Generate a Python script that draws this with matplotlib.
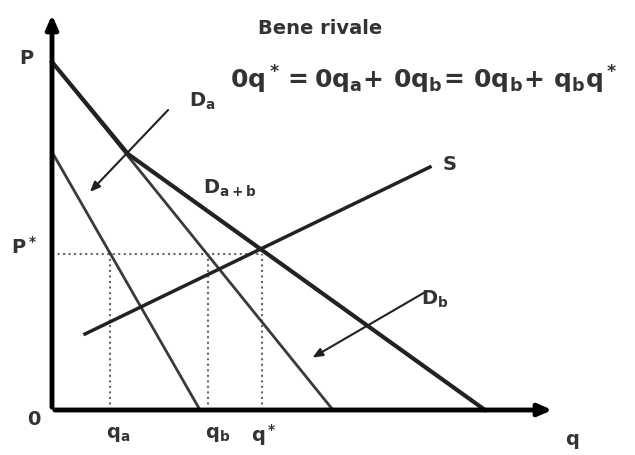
import matplotlib.pyplot as plt

plt.rcParams['font.family'] = ['DejaVu Sans']
plt.rcParams['mathtext.fontset'] = 'custom'
plt.rcParams['mathtext.bf'] = 'DejaVu Sans:bold'
plt.rcParams['mathtext.rm'] = 'DejaVu Sans:bold'
plt.rcParams['mathtext.it'] = 'DejaVu Sans:bold'

# curves (q, p)
da_q = [0, 14.8]
da_p = [25.8, 0]
db_q = [0, 28.1]
db_p = [34.8, 0]
dab_q = [0, 7.6, 43.3]
dab_p = [34.8, 25.6, 0]
s_q = [3.3, 37.8]
s_p = [7.6, 24.3]

# equilibrium
p_star = 15.6
q_a = 5.8
q_b = 15.6
q_star = 21.0

ink = '#222222'
txt = '#333333'

fig = plt.figure(figsize=(6.35, 4.56), dpi=100)
ax = fig.add_axes([0, 0, 1, 1])
ax.set_xlim(-5.2, 58.3)
ax.set_ylim(-4.5, 41.1)
ax.axis('off')

# axes with arrows
ax.annotate('', xy=(0, 39.8), xytext=(0, 0),
            arrowprops=dict(arrowstyle='-|>,head_width=0.35,head_length=0.8', lw=3.5, color='black'))
ax.annotate('', xy=(50.3, 0), xytext=(0, 0),
            arrowprops=dict(arrowstyle='-|>,head_width=0.35,head_length=0.8', lw=3.5, color='black'))

# dotted guides
ax.plot([0, q_star], [p_star, p_star], ls=':', lw=1.5, color='#666666')
for q in (q_a, q_b, q_star):
    ax.plot([q, q], [0, p_star], ls=':', lw=1.5, color='#666666')

# curves
ax.plot(da_q, da_p, color='#3a3a3a', lw=2)
ax.plot(db_q, db_p, color='#3a3a3a', lw=2)
ax.plot(dab_q, dab_p, color=ink, lw=3)
ax.plot(s_q, s_p, color=ink, lw=2.5)

# pointer arrows
ax.annotate('', xy=(3.6, 21.6), xytext=(11.8, 30.2),
            arrowprops=dict(arrowstyle='-|>,head_width=0.25,head_length=0.6', lw=1.5, color=ink))
ax.annotate('', xy=(25.8, 5.1), xytext=(37.5, 11.9),
            arrowprops=dict(arrowstyle='-|>,head_width=0.25,head_length=0.6', lw=1.5, color=ink))

fs = 14
ax.text(-2.6, 35.3, 'P', fontsize=fs, fontweight='bold', color=txt, ha='center', va='center')
ax.text(-2.8, 16.4, r'$\mathbf{P^*}$', fontsize=fs, color=txt, ha='center', va='center')
ax.text(-1.8, -0.9, '0', fontsize=fs, fontweight='bold', color=txt, ha='center', va='center')
ax.text(6.6, -2.4, r'$\mathbf{q_a}$', fontsize=fs, color=txt, ha='center', va='center')
ax.text(16.6, -2.4, r'$\mathbf{q_b}$', fontsize=fs, color=txt, ha='center', va='center')
ax.text(21.2, -2.4, r'$\mathbf{q^*}$', fontsize=fs, color=txt, ha='center', va='center')
ax.text(52.0, -2.9, 'q', fontsize=fs, fontweight='bold', color=txt, ha='center', va='center')
ax.text(39.8, 24.6, 'S', fontsize=fs, fontweight='bold', color=txt, ha='center', va='center')
ax.text(15.0, 31.0, r'$\mathbf{D_a}$', fontsize=fs, color=txt, ha='center', va='center')
ax.text(17.8, 22.3, r'$\mathbf{D_{a+b}}$', fontsize=fs, color=txt, ha='center', va='center')
ax.text(38.3, 11.2, r'$\mathbf{D_b}$', fontsize=fs, color=txt, ha='center', va='center')

ax.text(26.8, 38.3, 'Bene rivale', fontsize=14, fontweight='bold', color=txt, ha='center', va='center')
ax.text(37.2, 33.1, r'$\mathbf{0q^* = 0q_a\!+\, 0q_b\!=\, 0q_b\!+\, q_bq^*}$',
        fontsize=18, color=txt, ha='center', va='center')

fig.savefig('out.png', dpi=100)
